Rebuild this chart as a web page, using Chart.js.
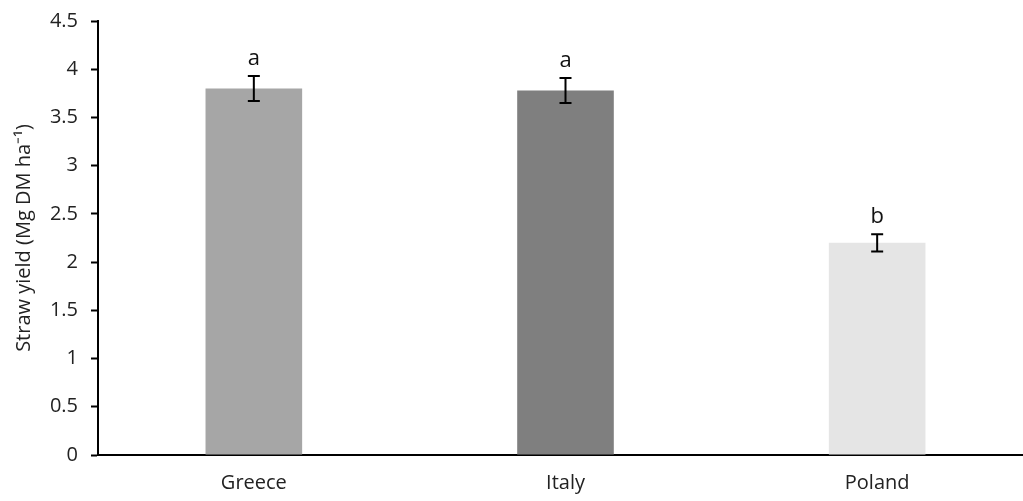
<!DOCTYPE html>
<html>
<head>
<meta charset="utf-8">
<script src="https://cdn.jsdelivr.net/npm/chart.js@4"></script>
<style>
  html, body { margin: 0; padding: 0; background: #fff; overflow: hidden; }
  #wrap { width: 1033px; height: 501px; }
</style>
</head>
<body>
<div id="wrap"><canvas id="strawChart"></canvas></div>
<script>
// Data
const countries = ['Greece', 'Italy', 'Poland'];
const yieldValues = [3.8, 3.78, 2.2];
const yieldErrors = [0.13, 0.13, 0.09];
const groupLetters = ['a', 'a', 'b'];
const barColors = ['#a6a6a6', '#7f7f7f', '#e5e5e5'];

const FONT = "'Open Sans', 'Liberation Sans', sans-serif";

// error bars and significance letters
const errorBarPlugin = {
    id: 'errorBars',
    afterDatasetsDraw(chart) {
        const ctx = chart.ctx;
        const y = chart.scales.y;
        const meta = chart.getDatasetMeta(0);
        ctx.save();
        ctx.strokeStyle = '#000';
        ctx.lineWidth = 2;
        meta.data.forEach((bar, i) => {
            const top = y.getPixelForValue(yieldValues[i] + yieldErrors[i]);
            const bot = y.getPixelForValue(yieldValues[i] - yieldErrors[i]);
            const x = bar.x;
            ctx.beginPath();
            ctx.moveTo(x, top); ctx.lineTo(x, bot);
            ctx.moveTo(x - 6, top); ctx.lineTo(x + 6, top);
            ctx.moveTo(x - 6, bot); ctx.lineTo(x + 6, bot);
            ctx.stroke();
            ctx.fillStyle = '#111';
            ctx.font = '22px ' + FONT;
            ctx.textAlign = 'center';
            ctx.textBaseline = 'alphabetic';
            ctx.fillText(groupLetters[i], x, top - 11);
        });
        ctx.restore();
    }
};

const ctx = document.getElementById('strawChart').getContext('2d');
new Chart(ctx, {
    type: 'bar',
    data: {
        labels: countries,
        datasets: [{
            data: yieldValues,
            backgroundColor: barColors,
            barPercentage: 0.31,
            categoryPercentage: 1.0
        }]
    },
    options: {
        responsive: true,
        maintainAspectRatio: false,
        animation: false,
        layout: { padding: { top: 21, right: 0, left: 0, bottom: 0 } },
        plugins: { legend: { display: false }, tooltip: { enabled: false } },
        scales: {
            x: {
                grid: { display: false, drawTicks: false },
                border: { color: '#000', width: 2 },
                ticks: { color: '#222', font: { family: FONT, size: 20 }, padding: 16 },
                afterFit(scale) { scale.height = 46; }
            },
            y: {
                min: 0,
                max: 4.5,
                ticks: {
                    stepSize: 0.5,
                    color: '#222',
                    font: { family: FONT, size: 20 },
                    padding: 13,
                    callback: (v) => String(v)
                },
                grid: { drawOnChartArea: false, tickLength: 7, color: '#000', tickWidth: 2 },
                border: { color: '#000', width: 2 },
                title: {
                    display: true,
                    text: 'Straw yield (Mg DM ha\u207B\u00B9)',
                    color: '#222',
                    font: { family: FONT, size: 20 },
                    padding: { top: 12, bottom: 0 }
                },
                afterFit(scale) {
                    scale.width = 98;
                    scale.paddingTop = 0;
                    scale.paddingBottom = 0;
                }
            }
        }
    },
    plugins: [errorBarPlugin]
});
</script>
</body>
</html>
